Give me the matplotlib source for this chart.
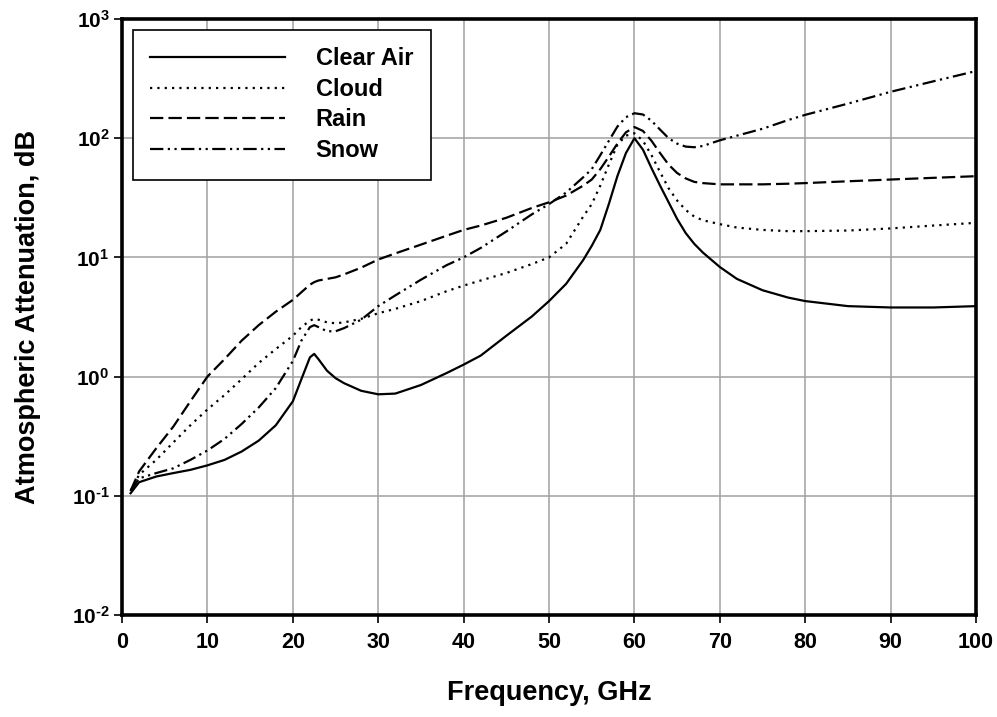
"""
Atmospheric attenuation vs frequency for clear air, cloud, rain and snow.
"""
import math
import matplotlib
matplotlib.use("Agg")
import matplotlib.pyplot as plt
from matplotlib.ticker import FixedLocator, NullLocator, FuncFormatter

# frequency grid (GHz) shared by all four curves
freq = [1, 2, 4, 6, 8, 10, 12, 14, 16, 18, 20, 21, 22, 22.5, 23, 24, 25, 26,
        28, 30, 32, 35, 38, 40, 42, 45, 48, 50, 52, 54, 55, 56, 57, 58, 59,
        60, 61, 62, 63, 64, 65, 66, 67, 68, 70, 72, 75, 78, 80, 85, 90, 95, 100]

clear_air = [0.105, 0.13, 0.145, 0.155, 0.165, 0.18, 0.20, 0.235, 0.29, 0.39,
             0.62, 0.95, 1.45, 1.55, 1.4, 1.12, 0.97, 0.88, 0.76, 0.71, 0.72,
             0.85, 1.07, 1.26, 1.5, 2.2, 3.2, 4.3, 6.0, 9.5, 12.5, 17, 28, 48,
             75, 100, 80, 56, 40, 29, 21, 16, 13, 11, 8.3, 6.6, 5.3, 4.6, 4.3,
             3.9, 3.8, 3.8, 3.9]

cloud = [0.11, 0.15, 0.2, 0.28, 0.39, 0.53, 0.7, 0.95, 1.3, 1.7, 2.2, 2.6,
         2.95, 3.05, 3.0, 2.85, 2.8, 2.85, 3.05, 3.4, 3.7, 4.3, 5.2, 5.8, 6.4,
         7.4, 8.8, 10, 13, 22, 28, 40, 60, 88, 105, 110, 95, 72, 52, 38, 30,
         25, 22, 20.5, 19, 17.8, 17, 16.6, 16.6, 16.8, 17.5, 18.5, 19.5]

rain = [0.11, 0.16, 0.25, 0.38, 0.62, 1.0, 1.4, 2.0, 2.7, 3.5, 4.4, 5.1, 5.9,
        6.2, 6.4, 6.6, 6.8, 7.2, 8.2, 9.6, 10.8, 12.8, 15.2, 17, 18.5, 21.5,
        26, 29, 33, 40, 45, 55, 70, 90, 112, 124, 115, 95, 75, 60, 51, 46, 43,
        42, 41, 41, 41, 41.5, 42, 43.5, 45, 46.5, 48]

snow = [0.11, 0.14, 0.155, 0.17, 0.2, 0.24, 0.3, 0.4, 0.55, 0.8, 1.35, 2.0,
        2.6, 2.7, 2.6, 2.4, 2.4, 2.55, 3.0, 3.9, 4.8, 6.5, 8.6, 10, 12, 16.5,
        23, 28, 35, 47, 55, 72, 95, 125, 150, 162, 158, 140, 118, 100, 90, 85,
        84, 86, 96, 105, 120, 142, 157, 195, 245, 300, 366]

labels = ["Clear Air", "Cloud", "Rain", "Snow"]
x_ticks = [0, 10, 20, 30, 40, 50, 60, 70, 80, 90, 100]
y_ticks = [1e-2, 1e-1, 1e0, 1e1, 1e2, 1e3]

plt.rcParams["font.family"] = ["Liberation Sans", "DejaVu Sans"]
plt.rcParams["font.weight"] = "bold"
plt.rcParams["mathtext.fontset"] = "custom"
plt.rcParams["mathtext.rm"] = "Liberation Sans:bold"
plt.rcParams["mathtext.bf"] = "Liberation Sans:bold"


def decade_label(v, pos):
    e = round(math.log10(v))
    s = str(e).replace("-", "\u2010")
    return r"$\mathbf{10^{%s}}$" % s


fig = plt.figure(figsize=(9.97, 7.17), dpi=100)
ax = fig.add_axes([0.1224, 0.1423, 0.8566, 0.8312])

lw = 1.6
ax.plot(freq, clear_air, color="black", lw=lw, linestyle="-", label=labels[0])
ax.plot(freq, cloud, color="black", lw=lw, linestyle=(0, (1, 2.3)), label=labels[1])
ax.plot(freq, rain, color="black", lw=lw, linestyle=(0, (6, 2.3)), label=labels[2])
ax.plot(freq, snow, color="black", lw=lw, linestyle=(0, (6, 2, 1, 2, 1, 2)), label=labels[3])

ax.set_yscale("log")
ax.set_xlim(0, 100)
ax.set_ylim(1e-2, 1e3)
ax.xaxis.set_major_locator(FixedLocator(x_ticks))
ax.yaxis.set_major_locator(FixedLocator(y_ticks))
ax.yaxis.set_minor_locator(NullLocator())
ax.yaxis.set_major_formatter(FuncFormatter(decade_label))

ax.grid(True, which="major", color="#a0a0a0", lw=1.1)
ax.set_axisbelow(True)
for s in ax.spines.values():
    s.set_linewidth(2.6)
ax.tick_params(axis="x", direction="out", length=6, width=1.2,
               labelsize=15.5, pad=6)
ax.tick_params(axis="y", direction="out", length=6, width=1.2,
               labelsize=15, pad=3)
for t in ax.get_xticklabels():
    t.set_fontweight("bold")

ax.set_xlabel("Frequency, GHz", fontsize=19.5, fontweight="bold", labelpad=20)
ax.set_ylabel("Atmospheric Attenuation, dB", fontsize=19.5, fontweight="bold",
              labelpad=22)

leg = ax.legend(loc="upper left", handlelength=5.7, handletextpad=1.3,
                labelspacing=0.32, borderpad=0.75, borderaxespad=0.45,
                fancybox=False, framealpha=1, edgecolor="black",
                prop={"weight": "bold", "size": 17})
leg.get_frame().set_linewidth(1.2)

plt.savefig("out.png", dpi=100)
plt.close()
